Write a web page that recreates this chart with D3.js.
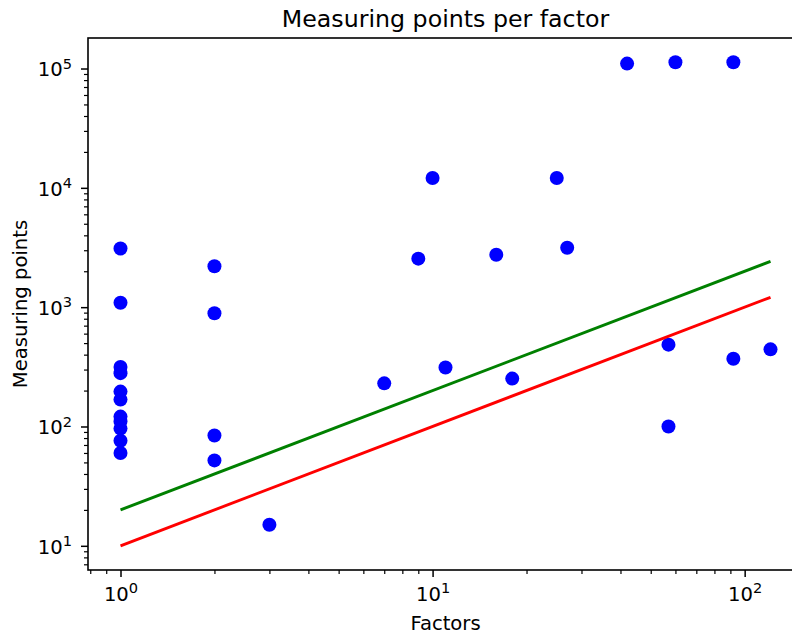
<!DOCTYPE html>
<html>
<head>
<meta charset="utf-8">
<script src="https://cdn.jsdelivr.net/npm/d3@7"></script>
<style>
  body { margin: 0; background: #fff; }
  text { font-family: 'DejaVu Sans', sans-serif; fill: #000; }
</style>
</head>
<body>
<div id="chart"></div>
<script>
// Data

const factors = [1, 1, 1, 1, 1, 1, 1, 1, 1, 1, 1,
  2, 2, 2, 2, 3, 7, 9, 10, 11, 16, 18, 25, 27, 42, 57, 57, 60, 92, 92, 121];
const measuringPoints = [3100, 1090, 315, 280, 196, 168, 121, 110, 96, 76, 60,
  2200, 890, 84, 52, 15, 230, 2550, 12100, 312, 2750, 252, 12100, 3150,
  110000, 485, 100, 113000, 113000, 370, 443];

// Reference lines (x, y pairs)
const greenLineX = [1, 121];
const greenLineY = [20, 2420];
const redLineX = [1, 121];
const redLineY = [10, 1210];

const xTickExponents = [0, 1, 2];
const yTickExponents = [1, 2, 3, 4, 5];

const width = 792;
const height = 634;
const margin = { top: 38, right: -11, bottom: 64, left: 88 };
const chartWidth = width - margin.left - margin.right;
const chartHeight = height - margin.top - margin.bottom;

const svg = d3.select('#chart').append('svg')
  .attr('width', width)
  .attr('height', height);

const g = svg.append('g')
  .attr('transform', `translate(${margin.left}, ${margin.top})`);

// Log scales with matplotlib-like padding (5% of the log range)
function padded(lo, hi) {
  const a = Math.log10(lo), b = Math.log10(hi);
  const p = (b - a) * 0.05;
  return [Math.pow(10, a - p), Math.pow(10, b + p)];
}

const xScale = d3.scaleLog()
  .domain(padded(d3.min(factors), d3.max(factors)))
  .range([0, chartWidth]);

const yScale = d3.scaleLog()
  .domain(padded(d3.min(redLineY), d3.max(measuringPoints)))
  .range([chartHeight, 0]);

// minor ticks inside the domain
function minors(scale) {
  const [lo, hi] = scale.domain();
  const out = [];
  for (let e = Math.floor(Math.log10(lo)); e <= Math.ceil(Math.log10(hi)); e++) {
    for (let m = 2; m <= 9; m++) {
      const v = m * Math.pow(10, e);
      if (v >= lo && v <= hi) out.push(v);
    }
  }
  return out;
}

const majorX = xTickExponents.map(e => Math.pow(10, e));
const majorY = yTickExponents.map(e => Math.pow(10, e));

function styleAxis(sel, w) {
  sel.select('.domain').remove();
  sel.selectAll('line').attr('stroke', '#000').attr('stroke-width', w);
  sel.selectAll('text').remove();
}

g.append('g')
  .attr('transform', `translate(0, ${chartHeight})`)
  .call(d3.axisBottom(xScale).tickValues(minors(xScale)).tickSize(4).tickSizeOuter(0))
  .call(s => styleAxis(s, 1.2));
const xMajor = g.append('g')
  .attr('transform', `translate(0, ${chartHeight})`)
  .call(d3.axisBottom(xScale).tickValues(majorX).tickSize(7).tickSizeOuter(0))
  .call(s => styleAxis(s, 1.5));

g.append('g')
  .call(d3.axisLeft(yScale).tickValues(minors(yScale)).tickSize(4).tickSizeOuter(0))
  .call(s => styleAxis(s, 1.2));
const yMajor = g.append('g')
  .call(d3.axisLeft(yScale).tickValues(majorY).tickSize(7).tickSizeOuter(0))
  .call(s => styleAxis(s, 1.5));

// 10^k labels with superscripts
xMajor.selectAll('.tick').append('text')
  .attr('y', 31)
  .attr('text-anchor', 'middle')
  .attr('font-size', 19.6)
  .each(function (d, i) {
    const t = d3.select(this);
    t.append('tspan').text('10');
    t.append('tspan').attr('font-size', 14.6).attr('dy', -7.7).text(xTickExponents[i]);
  });

yMajor.selectAll('.tick').append('text')
  .attr('x', -16)
  .attr('y', 7.3)
  .attr('text-anchor', 'end')
  .attr('font-size', 19.6)
  .each(function (d, i) {
    const t = d3.select(this);
    t.append('tspan').text('10');
    t.append('tspan').attr('font-size', 14.6).attr('dy', -7.7).text(yTickExponents[i]);
  });

// points
g.append('g')
  .selectAll('circle')
  .data(factors)
  .enter()
  .append('circle')
  .attr('cx', d => xScale(d))
  .attr('cy', (d, i) => yScale(measuringPoints[i]))
  .attr('r', 7)
  .attr('fill', '#0000ff');

// lines
const line = d3.line()
  .x(d => xScale(d[0]))
  .y(d => yScale(d[1]));

g.append('path')
  .datum(greenLineX.map((x, i) => [x, greenLineY[i]]))
  .attr('d', line)
  .attr('fill', 'none')
  .attr('stroke', '#008000')
  .attr('stroke-width', 2.9);

g.append('path')
  .datum(redLineX.map((x, i) => [x, redLineY[i]]))
  .attr('d', line)
  .attr('fill', 'none')
  .attr('stroke', '#ff0000')
  .attr('stroke-width', 2.9);

// frame
g.append('rect')
  .attr('width', chartWidth)
  .attr('height', chartHeight)
  .attr('fill', 'none')
  .attr('stroke', '#000')
  .attr('stroke-width', 1.6);

// title and axis labels
svg.append('text')
  .attr('x', margin.left + chartWidth / 2)
  .attr('y', 27)
  .attr('text-anchor', 'middle')
  .attr('font-size', 23.7)
  .text('Measuring points per factor');

svg.append('text')
  .attr('x', margin.left + chartWidth / 2)
  .attr('y', 630)
  .attr('text-anchor', 'middle')
  .attr('font-size', 19.6)
  .text('Factors');

svg.append('text')
  .attr('transform', `translate(27, ${margin.top + chartHeight / 2}) rotate(-90)`)
  .attr('text-anchor', 'middle')
  .attr('font-size', 19.6)
  .text('Measuring points');
</script>
</body>
</html>
